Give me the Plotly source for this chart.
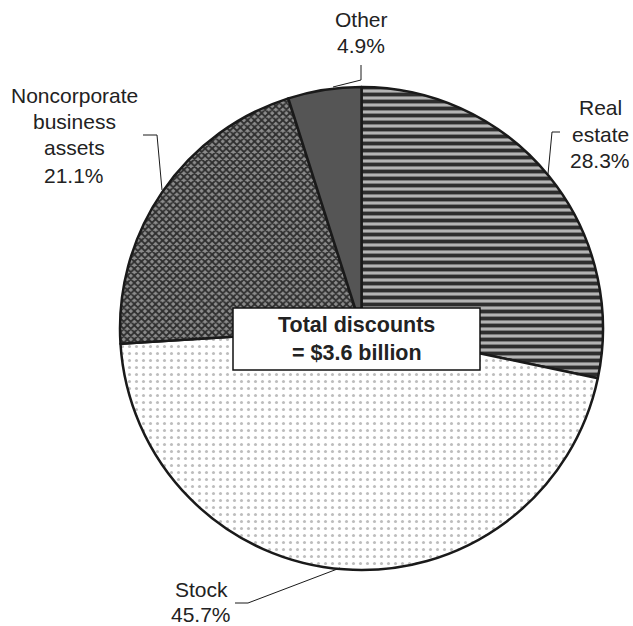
import plotly.graph_objects as go

W, H = 633, 626

# ---- data ----
labels = ["Real estate", "Stock", "Noncorporate business assets", "Other"]
values = [28.3, 45.7, 21.1, 4.9]
label_lines = [["Real", "estate", "28.3%"],
               ["Stock", "45.7%"],
               ["Noncorporate", "business", "assets", "21.1%"],
               ["Other", "4.9%"]]
center_text = ["Total discounts", "= $3.6 billion"]

# ---- styles ----
shapes_pat = ["-", ".", "x", ""]
fg = ["#2e2e2e", "#bdbdbd", "#2e2e2e", "#555555"]
bg = ["#b4b4b4", "#ffffff", "#8c8c8c", "#555555"]
psize = [7, 7, 5, 8]
psolid = [0.55, 0.15, 0.6, 0.3]

def px(x):
    return x / W

def py(y):
    return 1 - y / H

fig = go.Figure(go.Pie(
    labels=labels, values=values, sort=False, direction="clockwise",
    rotation=0, textinfo="none", hoverinfo="label+percent",
    marker=dict(colors=bg,
                line=dict(color="#1a1a1a", width=2.5),
                pattern=dict(shape=shapes_pat, fgcolor=fg, bgcolor=bg,
                             size=psize, solidity=psolid, fillmode="replace")),
    domain=dict(x=[px(120), px(603)], y=[py(570), py(87)]),
    showlegend=False,
))

font = dict(family="Liberation Sans, Arial, sans-serif", size=21, color="#222222")

# label positions (layout only)
label_pos = [
    (600, [107, 134, 160]),
    (201, [589, 614]),
    (74, [95, 122, 148, 175]),
    (361, [19, 46]),
]
leaders = [
    [(560, 132), (552, 132), (548, 174)],
    [(235, 603), (248, 603), (340, 568)],
    [(143, 135), (157, 135), (162, 190)],
    [(361, 65), (361, 80), (333, 87)],
]

anns = []
for lines, (cx, ys) in zip(label_lines, label_pos):
    for t, yy in zip(lines, ys):
        anns.append(dict(text=t, x=px(cx), y=py(yy), xref="paper", yref="paper",
                         xanchor="center", yanchor="middle", showarrow=False,
                         font=font))

shapes = []
for pts in leaders:
    path = "M " + " L ".join(f"{px(a)},{py(b)}" for a, b in pts)
    shapes.append(dict(type="path", path=path, xref="paper", yref="paper",
                       line=dict(color="#1a1a1a", width=1)))

# center box
shapes.append(dict(type="rect", xref="paper", yref="paper",
                   x0=px(233), x1=px(480), y0=py(370), y1=py(308),
                   fillcolor="white", line=dict(color="#111111", width=1.5)))
bfont = dict(family="Liberation Sans, Arial, sans-serif", size=21.5, color="#222222")
for t, yy in zip(center_text, [325, 353]):
    anns.append(dict(text=f"<b>{t}</b>", x=px(356.5), y=py(yy), xref="paper", yref="paper",
                     xanchor="center", yanchor="middle", showarrow=False, font=bfont))

fig.update_layout(width=W, height=H, margin=dict(l=0, r=0, t=0, b=0),
                  paper_bgcolor="white", plot_bgcolor="white",
                  annotations=anns, shapes=shapes)

fig.write_html("out.html", config={"displayModeBar": False},
               post_script="document.body.style.margin='0';document.body.style.overflow='hidden';")
